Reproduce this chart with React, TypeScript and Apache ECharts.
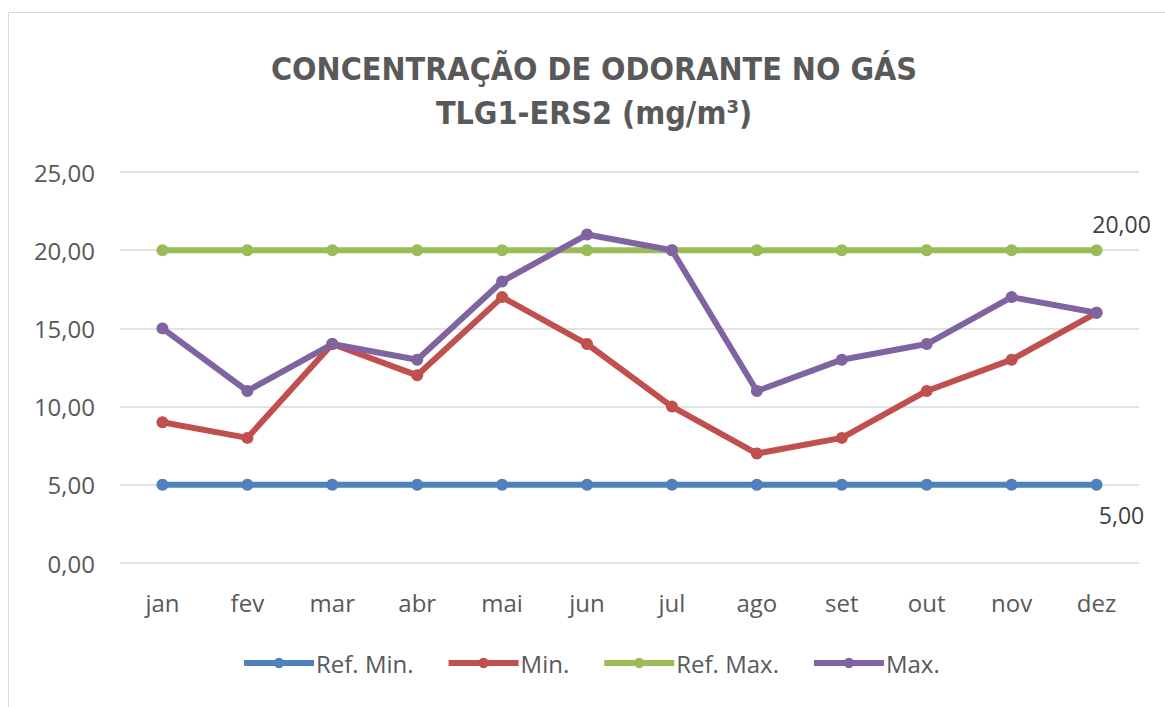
import React, { useEffect, useRef } from "react";
import * as echarts from "echarts";

const categories = ["jan", "fev", "mar", "abr", "mai", "jun", "jul", "ago", "set", "out", "nov", "dez"];
const refMin = [5, 5, 5, 5, 5, 5, 5, 5, 5, 5, 5, 5];
const minVals = [9, 8, 14, 12, 17, 14, 10, 7, 8, 11, 13, 16];
const refMax = [20, 20, 20, 20, 20, 20, 20, 20, 20, 20, 20, 20];
const maxVals = [15, 11, 14, 13, 18, 21, 20, 11, 13, 14, 17, 16];
const yTicks = [0, 5, 10, 15, 20, 25];

const fmt = (v: number) => v.toFixed(2).replace(".", ",");

export default function App() {
  const ref = useRef<HTMLDivElement>(null);
  useEffect(() => {
    if (!ref.current) return;
    const chart = echarts.init(ref.current, null, { renderer: "svg" });
    const font = "'Open Sans', 'Noto Sans', sans-serif";
    const lastLabel = (pos: string, offset: number[]) => ({
      show: true,
      position: pos,
      offset,
      formatter: (p: any) => (p.dataIndex === categories.length - 1 ? fmt(p.value) : ""),
      color: "#404040",
      fontSize: 23,
      fontFamily: font,
    });
    const mk = (name: string, data: number[], color: string, label?: any) => ({
      name,
      type: "line",
      data,
      symbol: "circle",
      symbolSize: 12,
      lineStyle: { width: 6, color },
      itemStyle: { color },
      label: label || { show: false },
      z: 2,
    });
    chart.setOption({
      animation: false,
      backgroundColor: "#ffffff",
      title: {
        text: "CONCENTRAÇÃO DE ODORANTE NO GÁS\nTLG1-ERS2 (mg/m³)",
        left: 589,
        textAlign: "center",
        top: 42,
        textStyle: {
          fontFamily: "'DejaVu Sans Condensed', 'Open Sans', sans-serif",
          fontSize: 32,
          fontWeight: 600,
          color: "#595959",
          lineHeight: 44,
        },
      },
      graphic: [
        {
          type: "rect",
          shape: { x: 8.5, y: 12.5, width: 1170, height: 720 },
          style: { fill: "none", stroke: "#d9d9d9", lineWidth: 1 },
          silent: true,
        },
      ],
      grid: { left: 120, right: 26, top: 172, bottom: 144, containLabel: false },
      xAxis: {
        type: "category",
        data: categories,
        boundaryGap: true,
        axisLine: { show: false },
        axisTick: { show: false },
        axisLabel: { color: "#595959", fontSize: 24, fontFamily: font, margin: 27 },
      },
      yAxis: {
        type: "value",
        min: yTicks[0],
        max: yTicks[yTicks.length - 1],
        interval: 5,
        axisLine: { show: false },
        axisTick: { show: false },
        splitLine: { lineStyle: { color: "#d9d9d9", width: 1.5 } },
        axisLabel: {
          color: "#595959",
          fontSize: 24,
          fontFamily: font,
          margin: 25,
          formatter: (v: number) => fmt(v),
        },
      },
      legend: {
        top: 646,
        left: 236,
        itemWidth: 70,
        itemHeight: 13,
        itemGap: 32,
        lineStyle: { width: 6 },
        textStyle: { color: "#595959", fontSize: 24, fontFamily: font, padding: [0, 0, 0, -3] },
        data: ["Ref. Min.", "Min.", "Ref. Max.", "Max."],
      },
      series: [
        mk("Ref. Min.", refMin, "#4F81BD", lastLabel("bottom", [25, 8])),
        mk("Min.", minVals, "#C0504D"),
        mk("Ref. Max.", refMax, "#9BBB59", lastLabel("top", [25, -4])),
        mk("Max.", maxVals, "#8064A2"),
      ],
    });
    return () => chart.dispose();
  }, []);
  return (
    <div
      ref={ref}
      style={{ position: "absolute", left: 0, top: 0, width: 1165, height: 707 }}
    />
  );
}
